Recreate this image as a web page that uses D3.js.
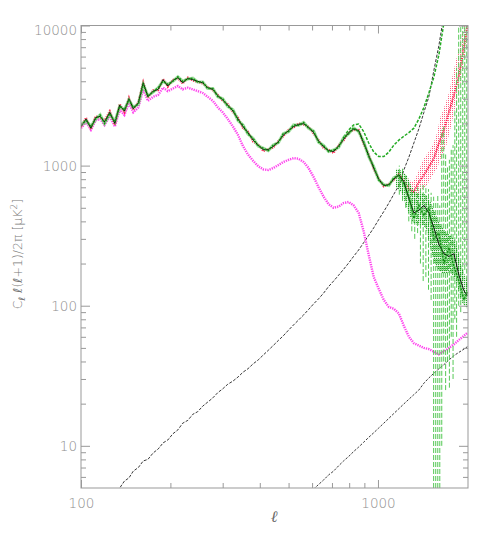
<!DOCTYPE html>
<html><head><meta charset="utf-8">
<script src="https://cdn.jsdelivr.net/npm/d3@7"></script>
<style>body{margin:0;background:#fff}</style>
</head><body>
<svg id="c" width="491" height="540"></svg>
<script>
// ---------- DATA ----------
const ell = [100,104,108,112,116,120,125,130,135,140,145,150,156,162,168,175,182,189,196,204,
 212,220,229,238,247,257,267,278,289,300,312,325,338,351,365,380,395,411,427,444,
 462,480,500,520,540,562,584,607,631,656,682,709,737,766,797,828,861,895,931,968,
 1006,1046,1088,1131,1176,1222,1271,1321,1373,1428,1484,1543,1604,1668,1734,1802,1874,1948,2000];

const modelTT = [1900,2150,1850,2200,2250,2050,2400,2000,2700,2450,
 3000,2550,2800,3900,3100,3400,3500,4100,3700,4050,
 4250,3900,4200,4100,4000,3900,3600,3500,3150,2950,
 2700,2450,2150,1900,1720,1520,1400,1300,1300,1370,
 1480,1650,1780,1900,1970,1990,1880,1720,1500,1360,
 1280,1260,1380,1540,1720,1820,1780,1450,1180,960,
 800,720,730,800,860,770,580,460,480,520,
 460,360,275,235,225,235,165,128,118];

const greenTT = [1950,2100,1900,2150,2300,2000,2350,2050,2650,2500,
 2950,2600,2750,3800,3150,3350,3600,4000,3800,4000,
 4300,4000,4150,4200,3950,3950,3550,3550,3100,3000,
 2650,2500,2100,1950,1680,1560,1380,1330,1280,1400,
 1460,1690,1750,1950,1940,2030,1850,1760,1470,1390,
 1260,1290,1350,1580,1690,1860,1750,1480,1160,980,
 790,730,720,820,850,740,600,420,520,440,
 500,300,330,200,260,190,150,110,125];

const redTT = [1880,2200,1820,2250,2200,2100,2450,1950,2750,2400,
 3050,2500,2850,3950,3050,3450,3450,4150,3650,4100,
 4200,3850,4250,4050,3950,3850,3650,3450,3200,2900,
 2750,2400,2200,1850,1750,1480,1420,1270,1310,1340,
 1500,1620,1800,1870,2000,1960,1900,1690,1520,1330,
 1300,1230,1400,1510,1740,1790,1800,1420,1200,940,
 810,710,740,790,870,780,680,650,760,860,
 980,1120,1450,1800,2400,3200,4400,7000,10000];

const magentaTT = [1850,2050,1800,2100,2150,1950,2250,1900,2500,2300,
 2800,2400,2600,3500,2900,3100,3200,3600,3400,3550,
 3700,3500,3600,3500,3400,3300,3100,2900,2600,2400,
 2150,1900,1650,1380,1200,1080,990,940,930,960,
 1010,1060,1100,1130,1120,1060,960,830,700,600,
 530,500,510,540,550,520,460,340,230,160,
 132,110,98,95,88,72,60,54,52,50,
 49,47,45,47,50,53,57,61,64];

const noiseHigh = [null,null,null,null,null,null,null,4.5,5.0,5.6,
 5.9,6.6,7.0,7.8,8.0,8.9,9.5,10.5,11.0,12.2,
 13.0,14.5,15.2,16.8,17.5,19.2,20.5,22.0,24.0,25.5,
 27.5,29.0,31.0,33.5,35.5,38.5,41.0,44.5,48.0,52.0,
 56.5,61.0,67.0,73.0,79.0,86.0,94.0,103,112,123,
 137,150,165,182,202,225,250,282,318,360,
 412,470,540,625,720,930,1150,1450,1830,2400,
 3100,4800,7200,12000,null,null,null,null,null];

const noiseLow = [null,null,null,null,null,null,null,null,null,null,
 null,null,null,null,null,null,null,null,null,null,
 null,null,null,null,null,null,null,null,null,null,
 null,null,null,null,null,null,null,null,null,null,
 null,null,null,null,null,null,null,4.9,5.3,5.7,
 6.2,6.6,7.2,7.8,8.4,9.1,9.8,10.6,11.5,12.4,
 13.4,14.5,15.7,17.0,18.4,19.9,21.5,23.2,25.0,28,
 30.5,33,35.5,38,41,44,46.5,49,51];

const upperEll = [766,797,828,861,895,931,968,1006,1046,1088,1131,1176,1222,1271,1321,1373,1428,1484,1543,1604,1668];
const upperGreen = [1600,1800,1950,1980,1750,1450,1250,1160,1160,1250,1400,1520,1620,1720,1850,2150,2600,3300,4300,6200,10500];

const errEll = [1180,1210,1240,1270,1300,1330,1360,1390,1420,1450,1480,1510,1540,1565,1590,1615,1640,1665,1690,1715,1740,1765,1790,1815,1840,1870,1900,1930,1960,1990];
const errLo  = [620,560,500,400,340,300,330,200,150,160,130,110,5,5,5,5,10,40,25,40,26,60,30,80,60,100,90,150,180,120];
const errHi  = [1000,950,850,750,650,640,700,720,740,720,680,640,600,560,620,520,1800,1900,1200,1000,1100,1300,1400,2500,5000,12000,12000,12000,12000,12000];

const redEll = [1180,1220,1260,1300,1340,1380,1420,1460,1500,1540,1580,1620,1660,1700,1740,1780,1820,1860,1900,1940,1980,2000];
const redLo  = [720,680,600,560,580,620,680,720,800,880,950,1100,1250,1400,1700,2100,2600,3200,4000,5300,7000,8000];
const redHi  = [900,880,820,760,820,950,1100,1200,1300,1450,1700,2200,2500,2900,3400,4300,5300,6500,8000,9500,11500,12000];

const gbEll = [1150,1200,1250,1300,1350,1400,1450,1500,1550,1600,1650,1700,1750,1800,1850,1900,1950,2000];
const gbLo  = [700,640,500,400,380,380,360,260,200,180,170,170,175,160,140,110,100,95];
const gbHi  = [950,920,850,700,640,640,620,560,470,400,360,330,320,300,260,200,170,150];

const yMajor = [10,100,1000,10000];
const yMinor = [6,7,8,9,20,30,40,50,60,70,80,90,200,300,400,500,600,700,800,900,2000,3000,4000,5000,6000,7000,8000,9000];
const xMajor = [100,1000];
const xMinor = [200,300,400,500,600,700,800,900];

// ---------- CHART ----------
const L=81, R=468, T=25.5, B=488;
const x = d3.scaleLog().domain([100,2010]).range([L,R]);
const y = d3.scaleLog().domain([5,10000]).range([B,T]);
const svg = d3.select('#c');
const defs = svg.append('defs');
defs.append('clipPath').attr('id','clip').append('rect').attr('x',L).attr('y',T).attr('width',R-L).attr('height',B-T);
const pr = defs.append('pattern').attr('id','redDots').attr('width',2).attr('height',2).attr('patternUnits','userSpaceOnUse');
pr.append('rect').attr('width',1).attr('height',1).attr('fill','#ff2050');
const pg = defs.append('pattern').attr('id','greenDots').attr('width',2).attr('height',2).attr('patternUnits','userSpaceOnUse');
pg.append('rect').attr('width',1.2).attr('height',1.2).attr('fill','#119911');

const plot = svg.append('g').attr('clip-path','url(#clip)');
const zip = (xs, ys) => xs.map((v,i)=>[v, ys[i]]);
const line = d3.line().defined(d=>d[1]!=null).x(d=>x(d[0])).y(d=>y(d[1]));
const area = d3.area().x(d=>x(d[0])).y0(d=>y(d[1])).y1(d=>y(d[2]));

// noise curves (black)
plot.append('path').attr('d', line(zip(ell, noiseHigh))).attr('fill','none')
  .attr('stroke','#222').attr('stroke-width',0.9).attr('stroke-dasharray','3,1.5');
plot.append('path').attr('d', line(zip(ell, noiseLow))).attr('fill','none')
  .attr('stroke','#222').attr('stroke-width',0.9).attr('stroke-dasharray','2.5,1.5');

// magenta
plot.append('path').attr('d', line(zip(ell, magentaTT))).attr('fill','none')
  .attr('stroke','#ff44ee').attr('stroke-width',2.4).attr('stroke-dasharray','1.3,1');

// red cloud + red line
plot.append('path').attr('d', area(redEll.map((v,i)=>[v, redLo[i], redHi[i]])))
  .attr('fill','url(#redDots)').attr('opacity',0.7);
plot.append('path').attr('d', line(zip(ell, redTT))).attr('fill','none')
  .attr('stroke','#ff2050').attr('stroke-width',2).attr('stroke-dasharray','1.2,1');

// green error bars
plot.append('g').selectAll('line').data(errEll).join('line')
  .attr('x1',d=>x(d)).attr('x2',d=>x(d))
  .attr('y1',(d,i)=>y(errLo[i])).attr('y2',(d,i)=>y(errHi[i]))
  .attr('stroke','#55c855').attr('stroke-width',1).attr('stroke-dasharray','5,2');

// green upper curve
plot.append('path').attr('d', line(zip(upperEll, upperGreen))).attr('fill','none')
  .attr('stroke','#22aa22').attr('stroke-width',1.5).attr('stroke-dasharray','3,1.5');

// green band at high l
plot.append('path').attr('d', area(gbEll.map((v,i)=>[v, gbLo[i], gbHi[i]])))
  .attr('fill','url(#greenDots)').attr('opacity',0.9);

// light green fuzz under measured spectrum
plot.append('path').attr('d', line(zip(ell, greenTT))).attr('fill','none')
  .attr('stroke','#7fd67f').attr('stroke-width',3.2).attr('opacity',0.7);

// model (black)
plot.append('path').attr('d', line(zip(ell, modelTT))).attr('fill','none')
  .attr('stroke','#000').attr('stroke-width',0.9);

// measured green
plot.append('path').attr('d', line(zip(ell, greenTT))).attr('fill','none')
  .attr('stroke','#138f13').attr('stroke-width',1.5).attr('stroke-dasharray','2,1.2');

// ---------- AXES ----------
const axCol = '#999';
function style(g){
  g.select('.domain').remove();
  g.selectAll('line').attr('stroke',axCol);
  g.selectAll('text').attr('fill','#8f8f8f').attr('font-family','DejaVu Sans')
    .attr('font-size',13.5).attr('font-weight',300);
}
const fmt = d3.format('d');
svg.append('g').attr('transform',`translate(${L},0)`).call(d3.axisLeft(y).tickValues(yMajor).tickSize(-9).tickPadding(4).tickFormat(fmt)).call(style)
  .selectAll('text').attr('dy', d => d===10000 ? '0.65em' : '0.35em');
svg.append('g').attr('transform',`translate(${L},0)`).call(d3.axisLeft(y).tickValues(yMinor).tickSize(-5).tickFormat('')).call(style);
svg.append('g').attr('transform',`translate(${R},0)`).call(d3.axisRight(y).tickValues(yMajor).tickSize(-9).tickFormat('')).call(style);
svg.append('g').attr('transform',`translate(${R},0)`).call(d3.axisRight(y).tickValues(yMinor).tickSize(-5).tickFormat('')).call(style);
svg.append('g').attr('transform',`translate(0,${B})`).call(d3.axisBottom(x).tickValues(xMajor).tickSize(-8).tickPadding(10).tickFormat(fmt)).call(style);
svg.append('g').attr('transform',`translate(0,${B})`).call(d3.axisBottom(x).tickValues(xMinor).tickSize(-5).tickFormat('')).call(style);
svg.append('g').attr('transform',`translate(0,${T})`).call(d3.axisTop(x).tickValues(xMajor).tickSize(-8).tickFormat('')).call(style);
svg.append('g').attr('transform',`translate(0,${T})`).call(d3.axisTop(x).tickValues(xMinor).tickSize(-5).tickFormat('')).call(style);
svg.append('rect').attr('x',L).attr('y',T).attr('width',R-L).attr('height',B-T)
  .attr('fill','none').attr('stroke',axCol).attr('stroke-width',1);

// axis titles
svg.append('text').attr('x',(L+R)/2 - 0.5).attr('y',522).attr('text-anchor','middle')
  .attr('font-family','DejaVu Serif').attr('font-style','italic').attr('font-size',16).attr('fill','#666').text('ℓ');
const yl = svg.append('text').attr('transform','translate(22,254) rotate(-90)').attr('text-anchor','middle')
  .attr('font-family','DejaVu Sans').attr('font-size',12.5).attr('font-weight',300).attr('fill','#777');
yl.append('tspan').text('C');
yl.append('tspan').attr('dy',3).attr('font-size',9).attr('font-style','italic').text('ℓ');
yl.append('tspan').attr('dy',-3).attr('font-style','italic').text(' ℓ');
yl.append('tspan').text('(');
yl.append('tspan').attr('font-style','italic').text('ℓ');
yl.append('tspan').text('+1)/2π  [μK');
yl.append('tspan').attr('dy',-5).attr('font-size',9).text('2');
yl.append('tspan').attr('dy',5).text(']');
</script>
</body></html>
